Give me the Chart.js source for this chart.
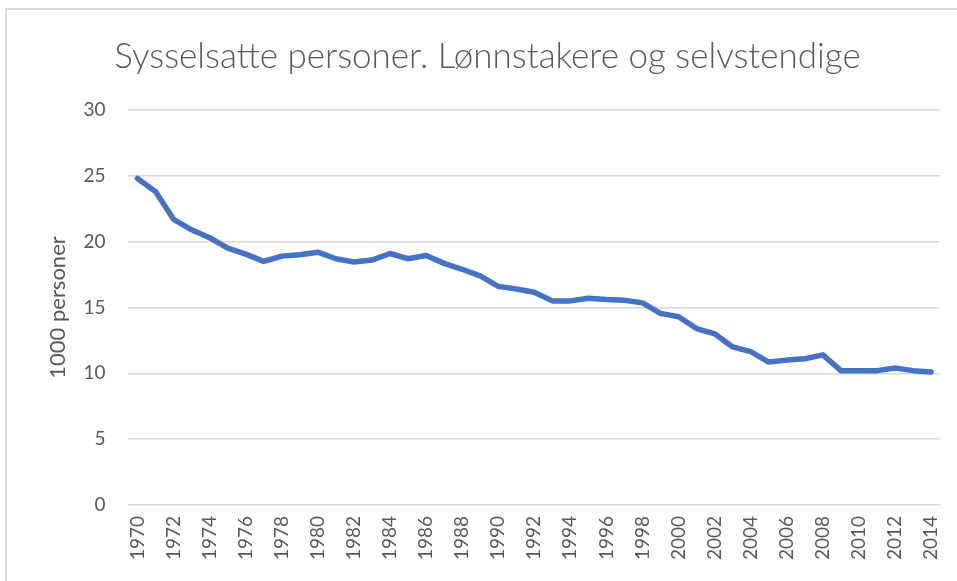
<!DOCTYPE html>
<html>
<head>
<meta charset="utf-8">
<script src="https://cdn.jsdelivr.net/npm/chart.js@4.4.0/dist/chart.umd.min.js"></script>
<style>
    html, body { margin: 0; padding: 0; background: #fff; overflow: hidden; }
    #frame {
        position: absolute;
        left: 5px;
        top: 8px;
        width: 1000px;
        height: 700px;
        border-left: 2px solid #d9d9d9;
        border-top: 2px solid #d9d9d9;
    }
    #wrap { position: absolute; left: 0; top: 0; width: 957px; height: 581px; }
</style>
</head>
<body>
<div id="frame"></div>
<div id="wrap"><canvas id="employedChart"></canvas></div>
<script>
const years = [
    '1970', '1971', '1972', '1973', '1974', '1975', '1976', '1977', '1978', '1979',
    '1980', '1981', '1982', '1983', '1984', '1985', '1986', '1987', '1988', '1989',
    '1990', '1991', '1992', '1993', '1994', '1995', '1996', '1997', '1998', '1999',
    '2000', '2001', '2002', '2003', '2004', '2005', '2006', '2007', '2008', '2009',
    '2010', '2011', '2012', '2013', '2014'
];
const employed = [
    24.8, 23.8, 21.7, 20.9, 20.3, 19.5, 19.05, 18.5, 18.9, 19.0,
    19.2, 18.7, 18.45, 18.6, 19.1, 18.7, 18.95, 18.35, 17.9, 17.4,
    16.6, 16.4, 16.15, 15.5, 15.5, 15.7, 15.6, 15.55, 15.35, 14.55,
    14.3, 13.4, 13.0, 12.0, 11.65, 10.85, 11.0, 11.1, 11.4, 10.2,
    10.2, 10.2, 10.4, 10.2, 10.1
];
const yTicks = [0, 5, 10, 15, 20, 25, 30];

const chartTitle = 'Sysselsatte personer. Lønnstakere og selvstendige';
const yAxisTitle = '1000 personer';

const textColor = '#595959';
const fontFamily = 'Lato, "Open Sans", sans-serif';

const ctx = document.getElementById('employedChart').getContext('2d');
new Chart(ctx, {
    type: 'line',
    data: {
        labels: years,
        datasets: [{
            label: 'Sysselsatte',
            data: employed,
            borderColor: '#4472c4',
            backgroundColor: '#4472c4',
            borderWidth: 5.5,
            pointRadius: 0,
            tension: 0,
            fill: false,
            borderCapStyle: 'round',
            borderJoinStyle: 'round',
        }]
    },
    options: {
        responsive: true,
        maintainAspectRatio: false,
        animation: false,
        layout: {
            padding: { left: 28, right: 10, top: 36, bottom: 18 }
        },
        plugins: {
            legend: { display: false },
            tooltip: { enabled: false },
            title: {
                display: true,
                text: chartTitle,
                color: textColor,
                font: { family: fontFamily, size: 35, weight: '300' },
                padding: { top: 0, bottom: 32 }
            }
        },
        scales: {
            x: {
                offset: true,
                grid: { display: false },
                border: { color: '#d9d9d9', width: 1 },
                ticks: {
                    autoSkip: false,
                    minRotation: 90,
                    maxRotation: 90,
                    color: textColor,
                    font: { family: fontFamily, size: 19 },
                    padding: 3,
                    callback: function(value, index) {
                        return index % 2 === 0 ? this.getLabelForValue(value) : '';
                    }
                }
            },
            y: {
                min: 0,
                max: 30,
                afterBuildTicks: axis => {
                    axis.ticks = yTicks.map(v => ({ value: v }));
                },
                grid: { color: '#d9d9d9', lineWidth: 1.5, drawTicks: false },
                border: { display: false },
                ticks: {
                    color: textColor,
                    font: { family: fontFamily, size: 19 },
                    padding: 23
                },
                title: {
                    display: true,
                    text: yAxisTitle,
                    color: textColor,
                    font: { family: fontFamily, size: 22 },
                    padding: { top: 17, bottom: -11 }
                }
            }
        }
    }
});
</script>
</body>
</html>
